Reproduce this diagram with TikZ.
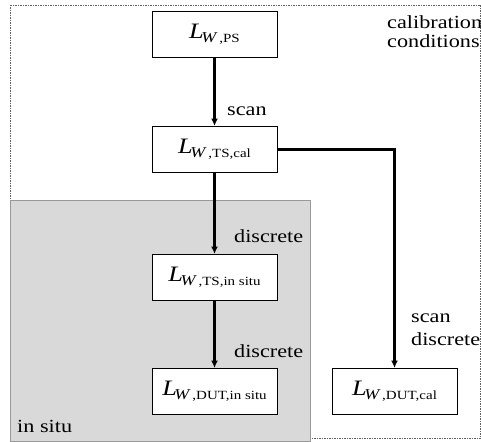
\documentclass[tikz,border=0pt]{standalone}
\usepackage{fontspec}
\setmainfont{Liberation Serif}[FakeStretch=1.2]
\usepackage{tikz}
\usetikzlibrary{arrows.meta,positioning}

% L_{W,...} quantity as set in the boxes
\newcommand{\lw}[1]{{\fontsize{22}{22}\selectfont\itshape L}\kern-2.5pt\raisebox{-4.5pt}{{\fontsize{15}{15}\selectfont\itshape W}\kern3pt{\fontsize{12.5}{12.5}\selectfont,#1}}}

\begin{document}
\begin{tikzpicture}[
    x=1pt, y=-1pt,
    qbox/.style={rectangle, draw, line width=1pt, fill=white, minimum width=125pt, minimum height=46pt, inner sep=0pt},
    arrow/.style={-{Latex[length=7.5pt,width=7pt]}, line width=2.2pt},
    lbl/.style={anchor=base west, inner sep=0pt, font=\fontsize{18.5}{18.5}\selectfont}
]
\useasboundingbox (0,0) rectangle (481,441);

% regions
\draw[gray!75!black, line width=0.6pt, dash pattern=on 1.5pt off 1pt] (10,5) rectangle (480,438.5);
\draw[gray!80, fill=gray!30, line width=1pt] (10,200) rectangle (310,441);

% quantities
\node[qbox] (ps) at (214.5,34.5) {\lw{PS}};
\node[qbox, below=68pt of ps] (tscal) {\lw{TS,cal}};
\node[qbox, below=81pt of tscal] (tsinsitu) {\lw{TS,in situ}};
\node[qbox, below=67pt of tsinsitu] (dutinsitu) {\lw{DUT,in situ}};
\node[qbox, right=54pt of dutinsitu] (dutcal) {\lw{DUT,cal}};

% labels
\node[lbl] (cal1) at (387,29) {calibration};
\node[lbl] (cal2) at (387,48) {conditions};
\node[lbl] (scan1) at (227,115) {scan};
\node[lbl] (disc1) at (234,242) {discrete};
\node[lbl] (disc2) at (234,357) {discrete};
\node[lbl] (scan2) at (411,322) {scan};
\node[lbl] (disc3) at (411,345) {discrete};
\node[lbl] (insitu) at (17,432) {in situ};

% arrows
\draw[arrow] (ps) -- (tscal);
\draw[arrow] (tscal) -- (tsinsitu);
\draw[arrow] (tsinsitu) -- (dutinsitu);
\draw[arrow] (tscal.east) -| (dutcal.north);

\end{tikzpicture}
\end{document}
